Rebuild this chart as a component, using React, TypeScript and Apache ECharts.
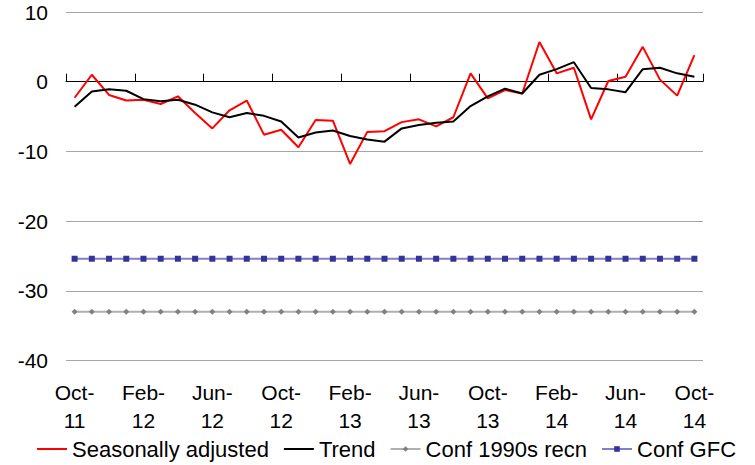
import React, { useEffect, useRef } from "react";
import * as echarts from "echarts";

const categories = [
  "Oct-11", "Nov-11", "Dec-11", "Jan-12", "Feb-12", "Mar-12", "Apr-12", "May-12", "Jun-12", "Jul-12",
  "Aug-12", "Sep-12", "Oct-12", "Nov-12", "Dec-12", "Jan-13", "Feb-13", "Mar-13", "Apr-13", "May-13",
  "Jun-13", "Jul-13", "Aug-13", "Sep-13", "Oct-13", "Nov-13", "Dec-13", "Jan-14", "Feb-14", "Mar-14",
  "Apr-14", "May-14", "Jun-14", "Jul-14", "Aug-14", "Sep-14", "Oct-14",
];

const seasonallyAdjusted = [
  -2.3, 1.0, -1.9, -2.7, -2.6, -3.2, -2.1, -4.5, -6.7, -4.1,
  -2.7, -7.6, -6.9, -9.4, -5.5, -5.6, -11.8, -7.2, -7.1, -5.8,
  -5.4, -6.4, -5.1, 1.2, -2.4, -1.2, -1.7, 5.7, 1.2, 2.0,
  -5.4, 0.1, 0.7, 5.0, 0.3, -2.0, 3.8,
];

const trend = [
  -3.6, -1.4, -1.1, -1.3, -2.5, -2.8, -2.6, -3.3, -4.4, -5.1,
  -4.5, -4.9, -5.7, -8.0, -7.3, -7.0, -7.8, -8.3, -8.6, -6.7,
  -6.2, -5.9, -5.7, -3.5, -2.1, -1.0, -1.7, 1.0, 1.8, 2.8,
  -0.9, -1.1, -1.5, 1.8, 2.0, 1.2, 0.7,
];

const conf1990s = [
  -33, -33, -33, -33, -33, -33, -33, -33, -33, -33,
  -33, -33, -33, -33, -33, -33, -33, -33, -33, -33,
  -33, -33, -33, -33, -33, -33, -33, -33, -33, -33,
  -33, -33, -33, -33, -33, -33, -33,
];

const confGFC = [
  -25.4, -25.4, -25.4, -25.4, -25.4, -25.4, -25.4, -25.4, -25.4, -25.4,
  -25.4, -25.4, -25.4, -25.4, -25.4, -25.4, -25.4, -25.4, -25.4, -25.4,
  -25.4, -25.4, -25.4, -25.4, -25.4, -25.4, -25.4, -25.4, -25.4, -25.4,
  -25.4, -25.4, -25.4, -25.4, -25.4, -25.4, -25.4,
];

const yMin = -40;
const yMax = 10;
const yStep = 10;

const FONT = "'Liberation Sans', Arial, sans-serif";

export default function App() {
  const ref = useRef<HTMLDivElement>(null);

  useEffect(() => {
    if (!ref.current) return;
    const chart = echarts.init(ref.current, undefined, { renderer: "svg" });
    chart.setOption({
      animation: false,
      backgroundColor: "#ffffff",
      grid: { left: 66, right: 52, top: 12, bottom: 104.5, containLabel: false },
      xAxis: [
        {
          type: "category",
          data: categories,
          boundaryGap: true,
          position: "bottom",
          axisLine: { show: true, onZero: true, lineStyle: { color: "#000000", width: 1 } },
          axisTick: { show: true, inside: true, length: 8, interval: 3, lineStyle: { color: "#000000", width: 1 } },
          axisLabel: { show: false },
          splitLine: { show: false },
        },
        {
          type: "category",
          data: categories,
          boundaryGap: true,
          position: "bottom",
          axisLine: { show: false, onZero: false },
          axisTick: { show: false },
          axisLabel: {
            show: true,
            interval: 3,
            margin: 18,
            fontSize: 21,
            lineHeight: 28,
            fontFamily: FONT,
            color: "#000000",
            formatter: (v: string) => v.replace("-", "-\n"),
          },
          splitLine: { show: false },
        },
      ],
      yAxis: {
        type: "value",
        min: yMin,
        max: yMax,
        interval: yStep,
        axisLine: { show: false },
        axisTick: { show: false },
        axisLabel: { fontSize: 21, fontFamily: FONT, color: "#000000", margin: 18 },
        splitLine: { show: true, lineStyle: { color: "#a6a6a6", width: 1 } },
      },
      legend: {
        left: 36,
        top: 438,
        padding: 0,
        itemWidth: 30,
        itemHeight: 7,
        itemGap: 14,
        textStyle: { fontSize: 22, fontFamily: FONT, color: "#000000" },
        data: [
          { name: "Seasonally adjusted", itemStyle: { opacity: 0 } },
          { name: "Trend", itemStyle: { opacity: 0 } },
          { name: "Conf 1990s recn" },
          { name: "Conf GFC" },
        ],
      },
      series: [
        {
          name: "Conf 1990s recn",
          type: "line",
          data: conf1990s,
          symbol: "diamond",
          symbolSize: 6,
          itemStyle: { color: "#808080" },
          lineStyle: { color: "#b0b0b0", width: 2 },
          z: 2,
        },
        {
          name: "Conf GFC",
          type: "line",
          data: confGFC,
          symbol: "rect",
          symbolSize: 6,
          itemStyle: { color: "#333399" },
          lineStyle: { color: "#8080c8", width: 2 },
          z: 2,
        },
        {
          name: "Seasonally adjusted",
          type: "line",
          data: seasonallyAdjusted,
          symbol: "none",
          itemStyle: { color: "#ff0000" },
          lineStyle: { color: "#ff0000", width: 2 },
          z: 3,
        },
        {
          name: "Trend",
          type: "line",
          data: trend,
          symbol: "none",
          itemStyle: { color: "#000000" },
          lineStyle: { color: "#000000", width: 2 },
          z: 4,
        },
      ],
    });
    return () => chart.dispose();
  }, []);

  return (
    <div
      ref={ref}
      style={{ position: "fixed", left: 0, top: 0, width: 755, height: 465 }}
    />
  );
}
